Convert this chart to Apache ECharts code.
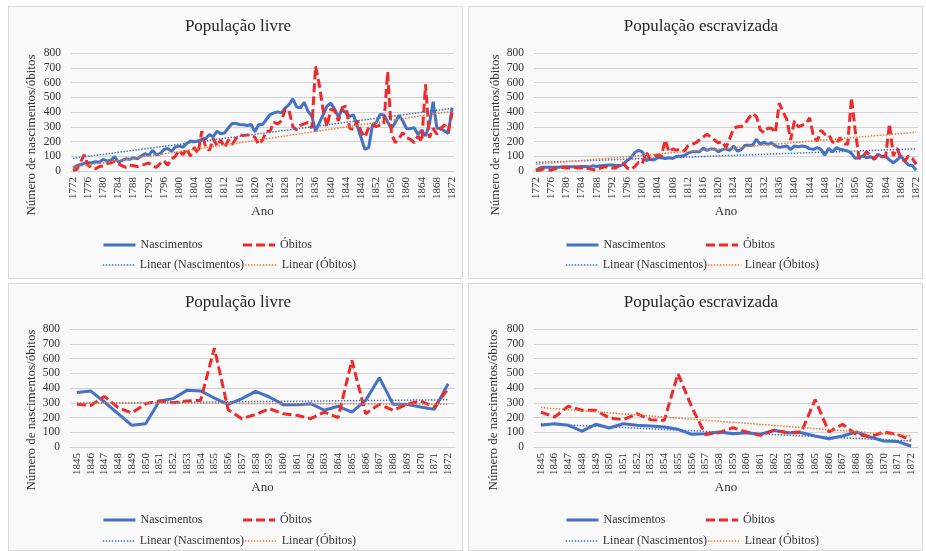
<!DOCTYPE html>
<html>
<head>
<meta charset="utf-8">
<script src="https://cdn.jsdelivr.net/npm/echarts@6/dist/echarts.min.js"></script>
<style>
html,body{margin:0;padding:0;background:#fff;}
#c{width:926px;height:551px;}
</style>
</head>
<body>
<div id="c"></div>
<script>
// ---------- DATA ----------
const years = Array.from({length: 101}, (_, i) => String(1772 + i)); // 1772..1872
const startDetail = 73; // index of 1845

const livreNascimentos = [
  22,34,45,52,56,56,63,60,79,68,
  72,97,60,72,83,79,90,83,101,117,
  106,140,110,117,146,153,133,162,169,162,
  187,203,198,203,214,218,248,232,270,252,
  259,293,322,322,315,313,309,315,266,315,
  315,349,383,394,401,394,428,450,489,435,
  428,466,405,372,270,326,383,439,461,421,
  367,416,394,
  370,380,305,226,147,158,312,328,384,380,332,289,328,377,339,287,287,294,249,276,237,316,470,289,289,271,255,429
];
const livreObitos = [
  5,10,60,110,40,20,15,30,35,50,
  55,65,50,35,25,40,35,30,40,45,
  55,35,25,50,70,40,80,100,140,110,
  150,100,160,120,270,160,140,220,170,210,
  160,210,180,220,245,240,245,240,230,180,
  210,270,270,330,320,340,420,410,300,280,
  310,320,330,290,710,580,410,300,420,410,
  340,430,440,
  289,282,343,267,230,294,312,300,312,316,671,253,192,221,260,226,215,192,237,199,588,226,289,249,289,312,271,395
];
const escravNascimentos = [
  5,20,25,25,25,25,25,28,28,28,
  28,28,30,30,28,35,30,35,38,40,
  40,38,35,45,70,90,125,140,130,70,
  80,75,90,90,85,90,85,100,100,105,
  120,130,130,130,155,140,150,150,130,145,
  150,140,170,135,145,175,175,175,215,180,
  195,180,190,170,160,165,170,145,170,165,
  170,165,150,
  147,158,147,108,154,129,158,147,142,136,120,86,90,102,90,97,86,113,97,97,75,56,75,102,68,41,38,5
];
const escravObitos = [
  5,5,15,10,5,15,20,25,20,20,
  25,20,20,25,15,10,5,20,30,25,
  20,20,40,55,20,10,30,60,50,130,
  80,100,110,100,210,130,150,140,150,135,
  170,180,190,210,230,250,230,210,190,200,
  160,220,290,300,300,320,360,390,370,280,
  260,290,290,260,460,400,350,210,340,300,
  310,320,360,
  237,203,276,249,249,197,185,226,185,181,497,271,84,97,131,102,79,113,97,102,321,102,154,86,68,102,86,45
];

// trend line end values [first year, last year]
const trendLivreNascTop = [86, 425];
const trendLivreObitTop = [25, 405];
const trendEscravNascTop = [58, 150];
const trendEscravObitTop = [45, 263];
const trendLivreNascDet = [297, 320];
const trendLivreObitDet = [300, 290];
const trendEscravNascDet = [158, 41];
const trendEscravObitDet = [267, 75];

const yTicks = {min: 0, max: 800, interval: 100};

// ---------- LAYOUT ----------
const FONT = '"Liberation Serif", "Times New Roman", serif';
const BLUE = '#4472C4', RED = '#EE2A2A', ORANGE = '#ED7D31';

const panels = [
  {title: 'População livre', cats: years, nasc: livreNascimentos, obit: livreObitos,
   tn: trendLivreNascTop, to: trendLivreObitTop, interval: 3,
   box: [8, 6, 454, 272], grid: {left: 71, top: 53, width: 383, height: 118},
   titleX: 238, titleY: 18, yName: [32, 135], legendX: 102, legendY: [239, 259]},
  {title: 'População escravizada', cats: years, nasc: escravNascimentos, obit: escravObitos,
   tn: trendEscravNascTop, to: trendEscravObitTop, interval: 3,
   box: [468, 6, 454, 272], grid: {left: 534, top: 53, width: 384, height: 118},
   titleX: 701, titleY: 18, yName: [496, 135], legendX: 565, legendY: [239, 259]},
  {title: 'População livre', cats: years.slice(startDetail), nasc: livreNascimentos.slice(startDetail), obit: livreObitos.slice(startDetail),
   tn: trendLivreNascDet, to: trendLivreObitDet, interval: 0,
   box: [8, 283, 454, 267], grid: {left: 70, top: 329, width: 385, height: 118},
   titleX: 238, titleY: 294, yName: [32, 410], legendX: 102, legendY: [514, 535]},
  {title: 'População escravizada', cats: years.slice(startDetail), nasc: escravNascimentos.slice(startDetail), obit: escravObitos.slice(startDetail),
   tn: trendEscravNascDet, to: trendEscravObitDet, interval: 0,
   box: [468, 283, 454, 267], grid: {left: 534, top: 329, width: 384, height: 118},
   titleX: 701, titleY: 294, yName: [494, 410], legendX: 565, legendY: [514, 535]}
];

const option = {
  backgroundColor: '#ffffff',
  animation: false,
  title: [], grid: [], xAxis: [], yAxis: [], series: [], legend: [],
  graphic: {elements: []}
};

panels.forEach((p, i) => {
  option.graphic.elements.push({
    type: 'rect', z: -10, silent: true,
    shape: {x: p.box[0] + 0.5, y: p.box[1] + 0.5, width: p.box[2], height: p.box[3]},
    style: {fill: '#f9f9f9', stroke: '#d8d8d8', lineWidth: 1}
  });
  option.graphic.elements.push({
    type: 'text', x: p.yName[0], y: p.yName[1], rotation: Math.PI / 2,
    style: {text: 'Número de nascimentos/óbitos', font: '13px ' + FONT, fill: '#333',
            align: 'center', verticalAlign: 'middle', textAlign: 'center', textVerticalAlign: 'middle'}
  });
  option.title.push({
    text: p.title, left: p.titleX, top: p.titleY, textAlign: 'center', padding: 0,
    textStyle: {fontFamily: FONT, fontSize: 17, fontWeight: 'normal', color: '#262626'}
  });
  option.grid.push(Object.assign({containLabel: false}, p.grid));
  option.xAxis.push({
    type: 'category', gridIndex: i, data: p.cats, boundaryGap: true,
    name: 'Ano', nameLocation: 'middle', nameGap: 34,
    nameTextStyle: {fontFamily: FONT, fontSize: 13, color: '#333'},
    axisLine: {lineStyle: {color: '#d0d0d0', width: 1}},
    axisTick: {show: false},
    axisLabel: {interval: p.interval, rotate: 90, margin: 6, fontFamily: FONT, fontSize: 11, color: '#333'}
  });
  option.yAxis.push({
    type: 'value', gridIndex: i, min: yTicks.min, max: yTicks.max, interval: yTicks.interval,
    axisLine: {show: false}, axisTick: {show: false},
    axisLabel: {margin: 10, fontFamily: FONT, fontSize: 11.5, color: '#333'},
    splitLine: {lineStyle: {color: '#d4d4d4', width: 1}}
  });
  const first = p.cats[0], last = p.cats[p.cats.length - 1];
  option.series.push(
    {name: 'Nascimentos', type: 'line', xAxisIndex: i, yAxisIndex: i, data: p.nasc,
     symbol: 'none', lineStyle: {color: BLUE, width: 3}, itemStyle: {color: BLUE}, z: 2},
    {name: 'Óbitos', type: 'line', xAxisIndex: i, yAxisIndex: i, data: p.obit,
     symbol: 'none', lineStyle: {color: RED, width: 3, type: [9, 4]}, itemStyle: {color: RED}, z: 3},
    {name: 'Linear (Nascimentos)', type: 'line', xAxisIndex: i, yAxisIndex: i,
     data: [[first, p.tn[0]], [last, p.tn[1]]],
     symbol: 'none', lineStyle: {color: BLUE, width: 1.5, type: [1.5, 1.5]}, itemStyle: {color: BLUE}, z: 4},
    {name: 'Linear (Óbitos)', type: 'line', xAxisIndex: i, yAxisIndex: i,
     data: [[first, p.to[0]], [last, p.to[1]]],
     symbol: 'none', lineStyle: {color: ORANGE, width: 1.5, type: [1.5, 1.5]}, itemStyle: {color: ORANGE}, z: 4}
  );
  const lt = {fontFamily: FONT, fontSize: 12, color: '#333'};
  const hideSymbol = {opacity: 0, borderWidth: 0};
  option.legend.push(
    {left: p.legendX, top: p.legendY[0], itemWidth: 32, itemHeight: 14, itemGap: 39, padding: 0,
     selectedMode: false, itemStyle: hideSymbol, lineStyle: {width: 3},
     data: ['Nascimentos', 'Óbitos'], textStyle: lt},
    {left: p.legendX, top: p.legendY[1], itemWidth: 32, itemHeight: 14, itemGap: 0, padding: 0,
     selectedMode: false, itemStyle: hideSymbol, lineStyle: {width: 1.5},
     data: ['Linear (Nascimentos)', 'Linear (Óbitos)'], textStyle: lt}
  );
});

const chart = echarts.init(document.getElementById('c'), null, {renderer: 'canvas'});
chart.setOption(option);
</script>
</body>
</html>
